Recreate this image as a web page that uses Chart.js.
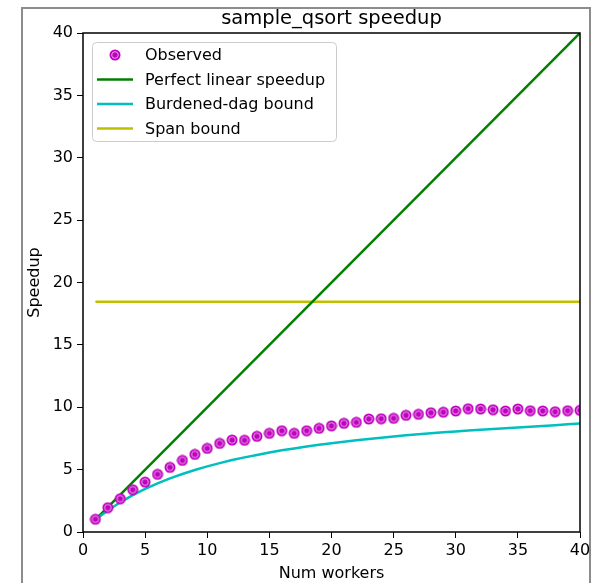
<!DOCTYPE html>
<html>
<head>
<meta charset="utf-8">
<script src="https://cdn.jsdelivr.net/npm/chart.js@4.4.1/dist/chart.umd.min.js"></script>
<style>
  html, body { margin: 0; padding: 0; background: #fff; }
  #wrap { position: relative; width: 596px; height: 583px; overflow: hidden; }
  #frame { position: absolute; left: 21px; top: 7px; width: 566px; height: 600px; border: 2px solid #8c8c8c; }
  #chart { position: absolute; left: 0; top: 0; }
</style>
</head>
<body>
<div id="wrap">
  <div id="frame"></div>
  <canvas id="chart" width="596" height="583"></canvas>
</div>
<script>
    const titulo = 'sample_qsort speedup';
    const workers = [1, 2, 3, 4, 5, 6, 7, 8, 9, 10, 11, 12, 13, 14, 15, 16, 17, 18, 19, 20,
                     21, 22, 23, 24, 25, 26, 27, 28, 29, 30, 31, 32, 33, 34, 35, 36, 37, 38, 39, 40];
    const observed = [1.02, 1.95, 2.67, 3.39, 4.0, 4.62, 5.18, 5.74, 6.22, 6.7,
                      7.1, 7.37, 7.35, 7.67, 7.91, 8.12, 7.91, 8.12, 8.31, 8.51,
                      8.71, 8.79, 9.06, 9.08, 9.11, 9.35, 9.43, 9.56, 9.6, 9.7,
                      9.88, 9.86, 9.8, 9.7, 9.86, 9.72, 9.7, 9.64, 9.72, 9.75];
    const burdened = [0.98, 1.72, 2.38, 2.95, 3.45, 3.9, 4.3, 4.65, 4.97, 5.26,
                      5.52, 5.77, 5.98, 6.18, 6.38, 6.55, 6.7, 6.85, 6.99, 7.12,
                      7.24, 7.35, 7.46, 7.56, 7.66, 7.75, 7.83, 7.91, 7.99, 8.06,
                      8.13, 8.2, 8.26, 8.32, 8.38, 8.44, 8.5, 8.56, 8.63, 8.7];
    const linearX = [1, 40];
    const linearY = [1, 40];
    const spanX = [1, 40];
    const spanY = [18.45, 18.45];
    const etiquetas = ['Observed', 'Perfect linear speedup', 'Burdened-dag bound', 'Span bound'];
    const colores = ['#bf00bf', '#007f00', '#00bfbf', '#bfbf00'];
    const fuente = '"DejaVu Sans", sans-serif';

    // marcador con anillo claro como en la imagen
    function crearMarcador() {
        const c = document.createElement('canvas');
        c.width = 12; c.height = 12;
        const g = c.getContext('2d');
        g.fillStyle = colores[0];
        g.beginPath(); g.arc(6, 6, 5.5, 0, Math.PI * 2); g.fill();
        g.strokeStyle = '#e9a6e9';
        g.lineWidth = 1;
        g.beginPath(); g.arc(6, 6, 3.3, 0, Math.PI * 2); g.stroke();
        return c;
    }
    const marcador = crearMarcador();

    const pares = (xs, ys) => xs.map((x, i) => ({ x: x, y: ys[i] }));

    // titulo, caja de ejes y leyenda
    const extras = {
        id: 'extras',
        afterDatasetsDraw(chart) {
            const ctx = chart.ctx;
            const a = chart.chartArea;
            ctx.save();
            ctx.strokeStyle = '#000';
            ctx.lineWidth = 1.5;
            ctx.strokeRect(a.left, a.top, a.right - a.left, a.bottom - a.top);

            ctx.fillStyle = '#000';
            ctx.font = '19.5px ' + fuente;
            ctx.textAlign = 'center';
            ctx.textBaseline = 'middle';
            ctx.fillText(titulo, (a.left + a.right) / 2, 18.5);

            // leyenda
            const lx = 92.5, ly = 42.5, lw = 244, lh = 99;
            ctx.beginPath();
            ctx.roundRect(lx, ly, lw, lh, 4);
            ctx.fillStyle = 'rgba(255,255,255,0.8)';
            ctx.fill();
            ctx.strokeStyle = '#cccccc';
            ctx.lineWidth = 1;
            ctx.stroke();
            ctx.font = '16px ' + fuente;
            ctx.textAlign = 'left';
            etiquetas.forEach((t, i) => {
                const y = 55 + i * 24.5;
                if (i === 0) {
                    ctx.drawImage(marcador, 115 - 6, y - 6);
                } else {
                    ctx.strokeStyle = colores[i];
                    ctx.lineWidth = 2.5;
                    ctx.beginPath();
                    ctx.moveTo(97, y); ctx.lineTo(133, y);
                    ctx.stroke();
                }
                ctx.fillStyle = '#000';
                ctx.fillText(t, 145, y + 1);
            });
            ctx.restore();
        }
    };

    const ctx = document.getElementById('chart').getContext('2d');
    new Chart(ctx, {
        type: 'scatter',
        data: {
            datasets: [
                { label: etiquetas[1], data: pares(linearX, linearY), showLine: true, borderColor: colores[1], borderWidth: 2.5, pointRadius: 0, order: 3 },
                { label: etiquetas[2], data: pares(workers, burdened), showLine: true, borderColor: colores[2], borderWidth: 2.5, pointRadius: 0, tension: 0, order: 2 },
                { label: etiquetas[3], data: pares(spanX, spanY), showLine: true, borderColor: colores[3], borderWidth: 2.5, pointRadius: 0, order: 4 },
                { label: etiquetas[0], data: pares(workers, observed), showLine: false, pointStyle: marcador, pointRadius: 6, order: 1 }
            ]
        },
        options: {
            responsive: false,
            animation: false,
            layout: { padding: { top: 33, right: 16, left: 0, bottom: 0 } },
            plugins: { legend: { display: false }, tooltip: { enabled: false } },
            scales: {
                x: {
                    type: 'linear', min: 0, max: 40,
                    afterFit: s => { s.height = 51; },
                    grid: { drawOnChartArea: false, tickLength: 6, color: '#000' },
                    border: { display: false },
                    ticks: { stepSize: 5, color: '#000', padding: 3, font: { family: fuente, size: 16 } },
                    title: { display: true, text: 'Num workers', color: '#000', padding: { top: 0, bottom: 0 }, font: { family: fuente, size: 16 } }
                },
                y: {
                    type: 'linear', min: 0, max: 40,
                    afterFit: s => { s.width = 83; },
                    grid: { drawOnChartArea: false, tickLength: 6, color: '#000' },
                    border: { display: false },
                    ticks: { stepSize: 5, color: '#000', padding: 4, font: { family: fuente, size: 16 } },
                    title: { display: true, text: 'Speedup', color: '#000', padding: { top: 25, bottom: 0 }, font: { family: fuente, size: 16 } }
                }
            }
        },
        plugins: [extras]
    });
</script>
</body>
</html>
